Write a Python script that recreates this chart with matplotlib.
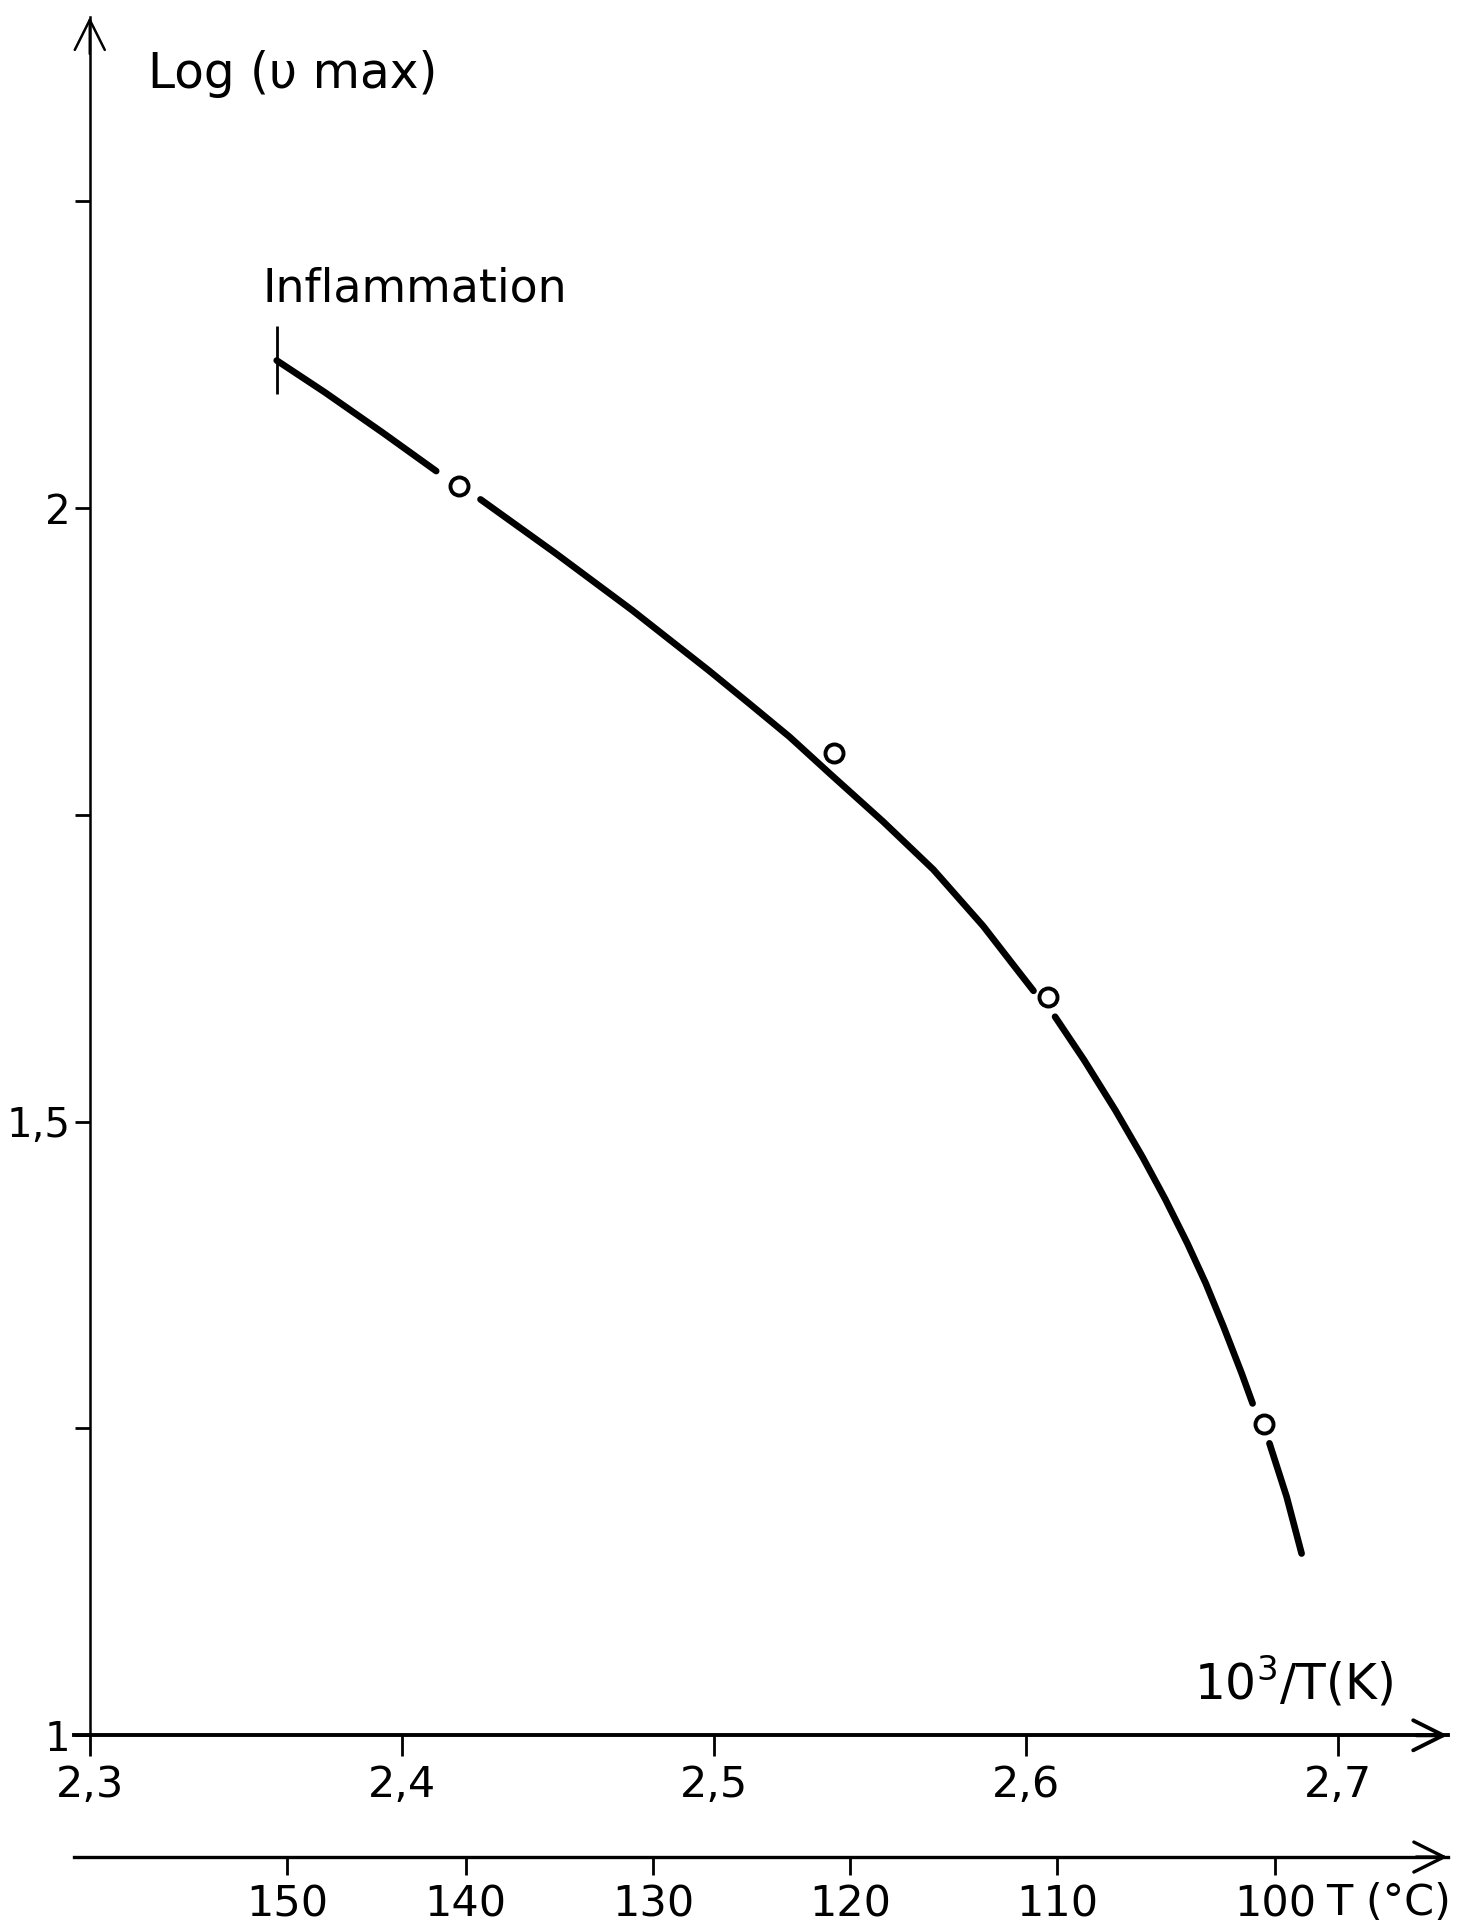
import matplotlib.pyplot as plt
from matplotlib.patches import ArrowStyle

plt.rcParams['font.family'] = ['DejaVu Sans']

# points mesures (10^3/T, log vmax)
inv_T = [2.4184, 2.5384, 2.6070, 2.6764]
log_vmax = [2.0178, 1.8006, 1.6012, 1.2535]

# courbe tracee a la main, en 4 morceaux (coupee autour des points)
curve_a_x = [2.3599, 2.3753, 2.3938, 2.4110]
curve_a_y = [2.1202, 2.0943, 2.0615, 2.0301]
curve_b_x = [2.4252, 2.4492, 2.4738, 2.4984, 2.5113, 2.5242, 2.5370, 2.5542,
             2.5703, 2.5863, 2.5970, 2.6024]
curve_b_y = [2.0070, 1.9632, 1.9167, 1.8675, 1.8407, 1.8136, 1.7839, 1.7445,
             1.7054, 1.6593, 1.6242, 1.6066]
curve_c_x = [2.6093, 2.6186, 2.6286, 2.6373, 2.6446, 2.6517, 2.6576, 2.6633,
             2.6691, 2.6726]
curve_c_y = [1.5855, 1.5502, 1.5094, 1.4713, 1.4369, 1.4008, 1.3682, 1.3329,
             1.2949, 1.2704]
curve_d_x = [2.6780, 2.6835, 2.6883]
curve_d_y = [1.2379, 1.1944, 1.1481]

# limite d'inflammation
inflam_x = 2.3599
inflam_y = [2.0932, 2.1483]

x_ticks = [2.3, 2.4, 2.5, 2.6, 2.7]
x_tick_labels = ['2,3', '2,4', '2,5', '2,6', '2,7']
y_ticks = [1.0, 1.25, 1.5, 1.75, 2.0, 2.25]
y_tick_labels = ['1', '', '1,5', '', '2', '']
t_ticks = [150, 140, 130, 120, 110, 100]
t_tick_labels = ['150', '140', '130', '120', '110', '100']

x_min, x_max = 2.29488, 2.73507
y_min, y_max = 0.85, 2.40
t_axis_y = 0.9008


fig = plt.figure(figsize=(14.77, 19.29), dpi=100)
ax = fig.add_axes([0.04997, 0.00498, 0.9301, 0.98616])
ax.set_xlim(x_min, x_max)
ax.set_ylim(y_min, y_max)

lw_curve = 4.8
for cx, cy in [(curve_a_x, curve_a_y), (curve_b_x, curve_b_y),
               (curve_c_x, curve_c_y), (curve_d_x, curve_d_y)]:
    ax.plot(cx, cy, color='black', lw=lw_curve, solid_capstyle='round',
            solid_joinstyle='round')

ax.plot(inv_T, log_vmax, linestyle='none', marker='o', markersize=13,
        markerfacecolor='white', markeredgecolor='black', markeredgewidth=2.8)

ax.vlines(inflam_x, inflam_y[0], inflam_y[1], color='black', lw=2.0)
ax.text(2.3552, 2.1784, 'Inflammation', fontsize=33, va='center', ha='left')

# axes
for s in ['top', 'right']:
    ax.spines[s].set_visible(False)
ax.spines['left'].set_position(('data', 2.3))
ax.spines['left'].set_bounds(1.0, y_max)
ax.spines['left'].set_linewidth(1.8)
ax.spines['bottom'].set_position(('data', 1.0))
ax.spines['bottom'].set_linewidth(2.8)

ax.set_xticks(x_ticks, labels=x_tick_labels)
ax.set_yticks(y_ticks, labels=y_tick_labels)
ax.tick_params(axis='x', direction='out', length=15, width=2.0, pad=6,
               labelsize=31)
ax.tick_params(axis='y', direction='out', length=11, width=2.0, pad=3,
               labelsize=29)

head = ArrowStyle('->', head_length=0.6, head_width=0.3)
ax.annotate('', xy=(x_max, 1.0), xytext=(x_max - 0.01, 1.0),
            arrowprops=dict(arrowstyle=head, lw=2.8, color='black',
                            mutation_scale=36, shrinkA=0, shrinkB=0))
ax.annotate('', xy=(2.3, y_max), xytext=(2.3, y_max - 0.03),
            arrowprops=dict(arrowstyle=head, lw=1.8, color='black',
                            mutation_scale=36, shrinkA=0, shrinkB=0))
ax.annotate('', xy=(x_max, t_axis_y), xytext=(x_max - 0.01, t_axis_y),
            arrowprops=dict(arrowstyle=head, lw=2.4, color='black',
                            mutation_scale=36, shrinkA=0, shrinkB=0))

# echelle en degres Celsius
loc = (t_axis_y - y_min) / (y_max - y_min)
sec = ax.secondary_xaxis(loc, functions=(lambda x: 1000.0 / x - 273.15,
                                         lambda t: 1000.0 / (t + 273.15)))
sec.set_xticks(t_ticks, labels=t_tick_labels)
sec.spines['bottom'].set_linewidth(2.4)
sec.tick_params(axis='x', direction='out', length=13, width=2.0, pad=6,
                labelsize=31)

ax.text(2.3185, 2.3537, 'Log (υ max)', fontsize=35, va='center', ha='left')
ax.text(2.7177, 1.0431, '10$^{3}$/T(K)', fontsize=35, va='center', ha='right')
ax.text(2.6962, 0.8808, 'T (°C)', fontsize=31, va='top', ha='left')

fig.savefig('out.png', dpi=100)
